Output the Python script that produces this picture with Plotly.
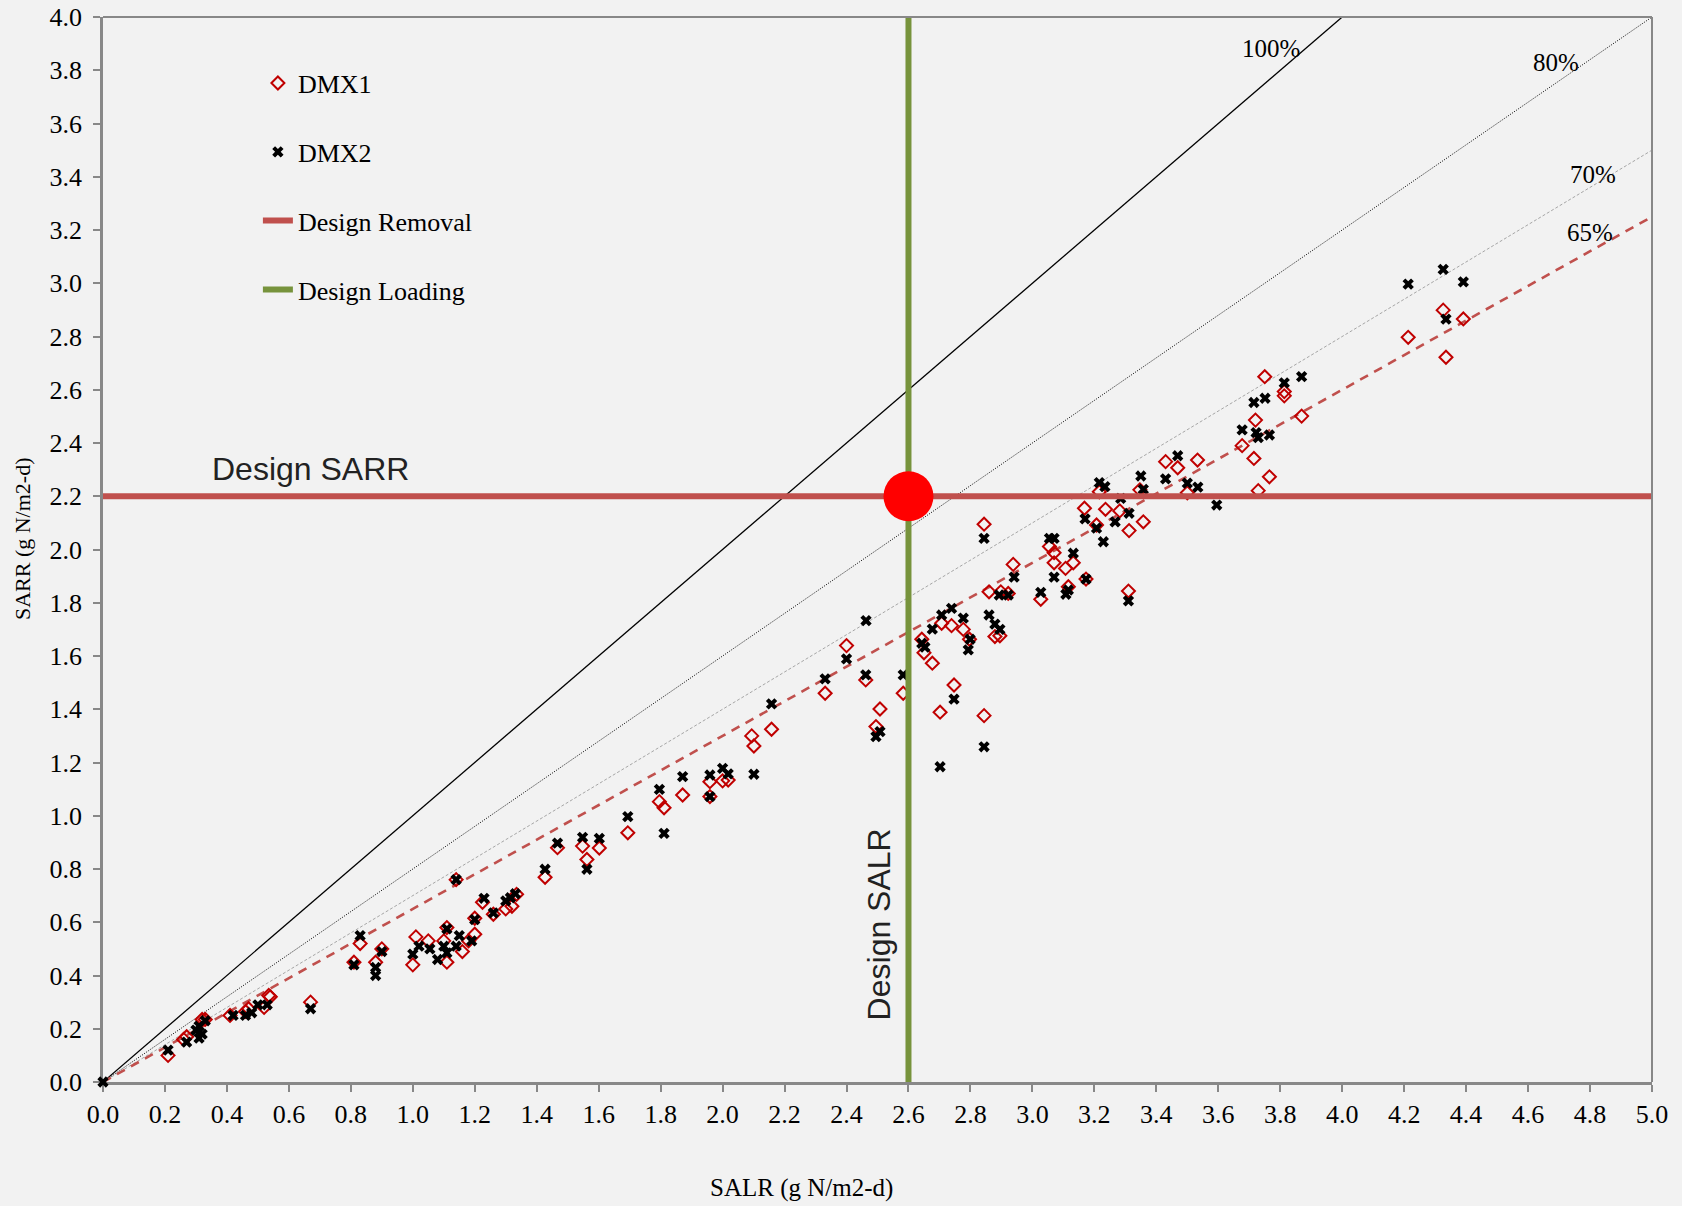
import plotly.graph_objects as go

# ---------------- data ----------------
dmx1_x = [0.21, 0.26, 0.27, 0.32, 0.33, 0.41, 0.46, 0.47, 0.52, 0.535, 0.54, 0.67,
          0.81, 0.83, 0.88, 0.90, 1.00, 1.01, 1.05, 1.10, 1.11, 1.11, 1.16, 1.18,
          1.20, 1.20, 1.14, 1.225, 1.26, 1.30, 1.32, 1.335,
          1.427, 1.467, 1.548, 1.562, 1.602, 1.694, 1.796, 1.811, 1.871, 1.959,
          1.959, 2.0, 2.018, 2.094, 2.101, 2.158,
          2.331, 2.40, 2.462, 2.495, 2.508, 2.583, 2.643, 2.65, 2.677, 2.702,
          2.707, 2.739, 2.747, 2.777, 2.797, 2.844, 2.844, 2.860, 2.879, 2.895,
          2.898, 2.922, 2.938, 3.027, 3.055, 3.07, 3.07, 3.107, 3.116, 3.132,
          3.168, 3.173, 3.207, 3.216, 3.236, 3.282, 3.31, 3.312, 3.347, 3.358,
          3.43, 3.469, 3.50, 3.533,
          3.677, 3.715, 3.72, 3.729, 3.75, 3.765, 3.813, 3.813, 3.869,
          4.213, 4.326, 4.335, 4.391]
dmx1_y = [0.10, 0.16, 0.17, 0.235, 0.235, 0.25, 0.265, 0.275, 0.28, 0.325, 0.32, 0.30,
          0.45, 0.52, 0.45, 0.50, 0.44, 0.545, 0.53, 0.53, 0.45, 0.58, 0.49, 0.53,
          0.555, 0.615, 0.76, 0.675, 0.63, 0.65, 0.66, 0.705,
          0.769, 0.880, 0.886, 0.836, 0.879, 0.936, 1.053, 1.030, 1.078, 1.072,
          1.128, 1.131, 1.134, 1.30, 1.262, 1.325,
          1.46, 1.639, 1.51, 1.335, 1.401, 1.46, 1.663, 1.612, 1.573, 1.389,
          1.723, 1.714, 1.491, 1.70, 1.663, 1.376, 2.095, 1.841, 1.673, 1.676,
          1.841, 1.835, 1.944, 1.813, 2.011, 1.988, 1.95, 1.929, 1.86, 1.95,
          2.155, 1.889, 2.092, 2.217, 2.151, 2.145, 1.844, 2.071, 2.224, 2.104,
          2.33, 2.307, 2.213, 2.336,
          2.39, 2.342, 2.486, 2.221, 2.649, 2.273, 2.593, 2.577, 2.501,
          2.797, 2.899, 2.722, 2.866]

dmx2_x = [0.0, 0.21, 0.27, 0.30, 0.31, 0.31, 0.32, 0.33, 0.42, 0.46, 0.48, 0.50, 0.53,
          0.67, 0.81, 0.83, 0.88, 0.88, 0.90, 1.00, 1.02, 1.055, 1.08, 1.10, 1.11,
          1.11, 1.14, 1.14, 1.15, 1.19, 1.20, 1.23, 1.26, 1.30, 1.315, 1.331,
          1.427, 1.467, 1.548, 1.562, 1.602, 1.694, 1.796, 1.811, 1.871, 1.959,
          1.959, 2.0, 2.018, 2.101, 2.158,
          2.331, 2.40, 2.462, 2.463, 2.495, 2.508, 2.583, 2.643, 2.653, 2.677,
          2.702, 2.707, 2.739, 2.747, 2.777, 2.793, 2.799, 2.844, 2.844, 2.860,
          2.879, 2.893, 2.895, 2.922, 2.941, 3.027, 3.055, 3.07, 3.07, 3.108,
          3.116, 3.132, 3.170, 3.173, 3.207, 3.216, 3.229, 3.234, 3.267, 3.285,
          3.31, 3.312, 3.35, 3.358, 3.43, 3.469, 3.50, 3.534, 3.595,
          3.677, 3.715, 3.722, 3.729, 3.751, 3.765, 3.813, 3.869,
          4.213, 4.326, 4.335, 4.391]
dmx2_y = [0.0, 0.12, 0.15, 0.195, 0.165, 0.21, 0.18, 0.23, 0.25, 0.25, 0.26, 0.29, 0.29,
          0.275, 0.44, 0.55, 0.40, 0.43, 0.49, 0.48, 0.51, 0.50, 0.46, 0.51, 0.575,
          0.485, 0.51, 0.76, 0.55, 0.53, 0.61, 0.69, 0.635, 0.68, 0.692, 0.707,
          0.799, 0.897, 0.919, 0.799, 0.915, 0.997, 1.099, 0.934, 1.147, 1.072,
          1.153, 1.178, 1.157, 1.156, 1.42,
          1.514, 1.589, 1.529, 1.733, 1.297, 1.316, 1.529, 1.648, 1.633, 1.701,
          1.184, 1.754, 1.779, 1.438, 1.742, 1.623, 1.663, 1.259, 2.042, 1.754,
          1.720, 1.829, 1.700, 1.829, 1.896, 1.839, 2.042, 2.042, 1.896, 1.832,
          1.848, 1.986, 2.115, 1.889, 2.08, 2.251, 2.029, 2.236, 2.104, 2.192,
          1.807, 2.136, 2.276, 2.226, 2.265, 2.352, 2.249, 2.234, 2.167,
          2.449, 2.552, 2.439, 2.42, 2.568, 2.43, 2.626, 2.649,
          2.997, 3.052, 2.865, 3.005]

efficiency_levels = [1.00, 0.80, 0.70, 0.65]
efficiency_labels = ["100%", "80%", "70%", "65%"]
design_salr = 2.6
design_sarr = 2.2
x_ticks = [round(0.2 * i, 1) for i in range(26)]
y_ticks = [round(0.2 * i, 1) for i in range(21)]

# ---------------- styling ----------------
BG = "#f2f2f2"
SERIF = "Liberation Serif, Times New Roman, serif"
SANS = "Liberation Sans, Arial, sans-serif"
RED_LINE = "#c0504d"
GREEN = "#77933c"

fig = go.Figure()

line_styles = {
    1.00: dict(color="black", width=1.3, dash="solid"),
    0.80: dict(color="black", width=1, dash="1px,1.5px"),
    0.70: dict(color="#a6a6a6", width=1, dash="3px,2px"),
    0.65: dict(color=RED_LINE, width=2.6, dash="9px,7px"),
}
for lvl in efficiency_levels:
    fig.add_trace(go.Scatter(x=[0, 5], y=[0, 5 * lvl], mode="lines",
                             line=line_styles[lvl], showlegend=False,
                             hoverinfo="skip"))

# data series
fig.add_trace(go.Scatter(x=dmx1_x, y=dmx1_y, mode="markers", name="DMX1",
                         legendgroup="a", cliponaxis=False,
                         marker=dict(symbol="diamond-open", size=10, color="#c00000",
                                     line=dict(width=2, color="#c00000"))))
fig.add_trace(go.Scatter(x=dmx2_x, y=dmx2_y, mode="markers", name="DMX2",
                         legendgroup="b", cliponaxis=False,
                         marker=dict(symbol="x", size=10, color="black",
                                     line=dict(width=0))))

# design lines
fig.add_trace(go.Scatter(x=[0, 5], y=[design_sarr, design_sarr], mode="lines",
                         name="Design Removal", legendgroup="c",
                         line=dict(color=RED_LINE, width=6)))
fig.add_trace(go.Scatter(x=[design_salr, design_salr], y=[0, 4], mode="lines",
                         name="Design Loading", legendgroup="d",
                         line=dict(color=GREEN, width=6)))

# design point
fig.add_trace(go.Scatter(x=[design_salr], y=[design_sarr], mode="markers",
                         showlegend=False,
                         marker=dict(size=50, color="#ff0000", line=dict(width=0))))

# percentage labels
label_pos = {"100%": (3.77, 3.88), "80%": (4.69, 3.83), "70%": (4.81, 3.41), "65%": (4.80, 3.19)}
for lab in efficiency_labels:
    px, py = label_pos[lab]
    fig.add_annotation(x=px, y=py, text=lab, showarrow=False,
                       font=dict(family=SERIF, size=25, color="black"))

fig.add_annotation(x=0.671, y=2.302, text="Design SARR", showarrow=False,
                   font=dict(family=SANS, size=32, color="#222222"))
fig.add_annotation(x=2.504, y=0.591, text="Design SALR", showarrow=False, textangle=-90,
                   font=dict(family=SANS, size=32, color="#222222"))

# axis titles (placed as in the reference, not centred on the plot)
fig.add_annotation(xref="paper", yref="paper", x=0.451, y=-0.0995,
                   text="SALR (g N/m2-d)", showarrow=False, yanchor="middle",
                   font=dict(family=SERIF, size=25, color="black"))
fig.add_annotation(xref="paper", yref="paper", x=-0.0515, y=0.51,
                   text="SARR (g N/m2-d)", showarrow=False, textangle=-90,
                   xanchor="center", yanchor="middle",
                   font=dict(family=SERIF, size=22, color="black"))

axis_common = dict(
    showgrid=False, zeroline=False, showline=True, linecolor="#888888", linewidth=2.5,
    ticks="outside", ticklen=7, tickwidth=1.5, tickcolor="#888888",
    tickfont=dict(family=SERIF, size=26, color="black"),
    mirror=False, automargin=False, layer="below traces",
)

fig.update_xaxes(range=[0, 5], tickvals=x_ticks,
                 ticktext=[f"{v:.1f}" for v in x_ticks], **axis_common)
fig.update_yaxes(range=[0, 4], tickvals=y_ticks,
                 ticktext=[f"{v:.1f}" for v in y_ticks], ticklabelstandoff=6,
                 **axis_common)

# top/right frame lines as in reference
fig.add_shape(type="line", xref="paper", yref="paper", x0=0, x1=1, y0=1, y1=1,
              line=dict(color="#888888", width=2))
fig.add_shape(type="line", xref="paper", yref="paper", x0=1, x1=1, y0=0, y1=1,
              line=dict(color="#888888", width=2))

fig.update_layout(
    width=1682, height=1206,
    paper_bgcolor=BG, plot_bgcolor=BG,
    margin=dict(l=103, r=30, t=17, b=124),
    font=dict(family=SERIF, color="black"),
    legend=dict(x=0.1, y=0.96, xanchor="left", yanchor="top",
                bgcolor="rgba(0,0,0,0)", font=dict(family=SERIF, size=26, color="black"),
                tracegroupgap=32, traceorder="grouped"),
)

fig.write_html("out.html", config={"displayModeBar": False},
               post_script="document.body.style.margin='0';document.body.style.overflow='hidden';")
